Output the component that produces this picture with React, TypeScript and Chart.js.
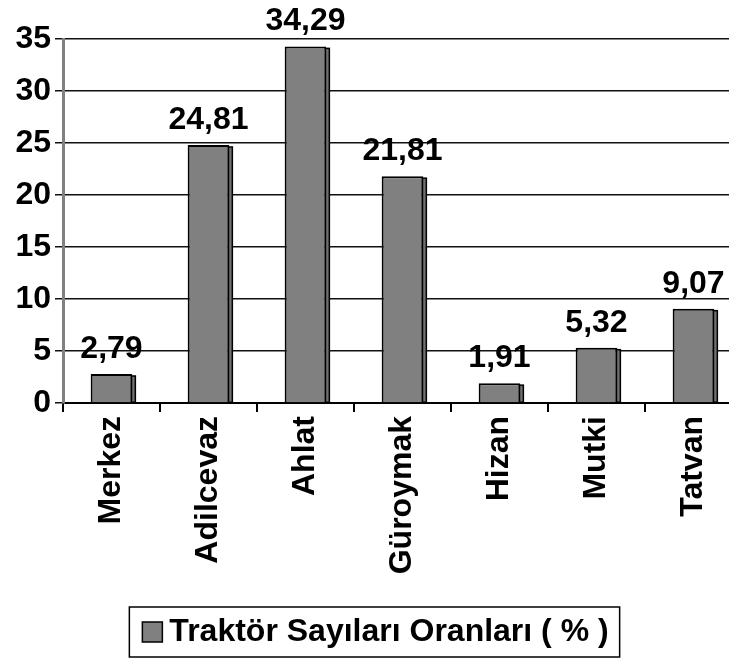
import React, { useEffect, useRef } from "react";
import { Chart, registerables } from "chart.js";

Chart.register(...registerables);

const categories = ["Merkez", "Adilcevaz", "Ahlat", "Güroymak", "Hizan", "Mutki", "Tatvan"];
const values = [2.79, 24.81, 34.29, 21.81, 1.91, 5.32, 9.07];
const valueLabels = ["2,79", "24,81", "34,29", "21,81", "1,91", "5,32", "9,07"];
const yTicks = [0, 5, 10, 15, 20, 25, 30, 35];
const seriesName = "Traktör Sayıları Oranları ( % )";

const FONT = "'Liberation Sans', Arial, sans-serif";
const FS = 32;

const barSidePlugin = {
  id: "barSide",
  beforeDatasetsDraw(chart: any) {
    const ctx = chart.ctx;
    const meta = chart.getDatasetMeta(0);
    ctx.save();
    meta.data.forEach((bar: any) => {
      const right = bar.x + bar.width / 2;
      const top = bar.y;
      const base = bar.base;
      ctx.fillStyle = "#707070";
      ctx.fillRect(right - 1, top + 2, 4, base - top - 2);
      ctx.strokeStyle = "#000";
      ctx.lineWidth = 1.5;
      ctx.strokeRect(right - 1, top + 2, 4, base - top - 2);
    });
    ctx.restore();
  },
};

const valueLabelPlugin = {
  id: "valueLabels",
  afterDatasetsDraw(chart: any) {
    const ctx = chart.ctx;
    const meta = chart.getDatasetMeta(0);
    ctx.save();
    ctx.font = `bold ${FS}px ${FONT}`;
    ctx.fillStyle = "#000";
    ctx.textAlign = "center";
    ctx.textBaseline = "alphabetic";
    meta.data.forEach((bar: any, i: number) => {
      ctx.fillText(valueLabels[i], bar.x, bar.y - 16);
    });
    ctx.restore();
  },
};

const legendBorderPlugin = {
  id: "legendBorder",
  afterDraw(chart: any) {
    const lg = chart.legend;
    if (!lg || !lg.legendHitBoxes || !lg.legendHitBoxes.length) return;
    const hb = lg.legendHitBoxes[0];
    const ctx = chart.ctx;
    ctx.save();
    // legend swatch, placed close to the text
    const sx = hb.left + 9;
    const sy = hb.top + (hb.height - 20) / 2;
    ctx.fillStyle = "#808080";
    ctx.fillRect(sx, sy, 20, 20);
    ctx.strokeStyle = "#000";
    ctx.lineWidth = 1.5;
    ctx.strokeRect(sx, sy, 20, 20);
    // border
    ctx.strokeRect(sx - 13, hb.top - 9, hb.width - 9 + 13 + 11, hb.height + 18);
    ctx.restore();
  },
};

export default function App() {
  const ref = useRef<HTMLCanvasElement | null>(null);
  useEffect(() => {
    document.body.style.margin = "0";
    const canvas = ref.current!;
    const chart = new Chart(canvas, {
      type: "bar",
      data: {
        labels: categories,
        datasets: [
          {
            label: seriesName,
            data: values,
            backgroundColor: "#808080",
            borderColor: "#000",
            borderWidth: 2,
            barPercentage: 0.43,
            categoryPercentage: 1,
          },
        ],
      },
      options: {
        responsive: false,
        animation: false,
        layout: { padding: { top: 39, left: 0, right: 0, bottom: 1 } },
        plugins: {
          tooltip: { enabled: false },
          legend: {
            position: "bottom",
            labels: {
              color: "#000",
              font: { family: FONT, size: FS, weight: "bold" },
              boxWidth: 20,
              boxHeight: 20,
              padding: 10,
              generateLabels: () => [
                {
                  text: seriesName,
                  fillStyle: "rgba(0,0,0,0)",
                  strokeStyle: "rgba(0,0,0,0)",
                  lineWidth: 0,
                  hidden: false,
                  datasetIndex: 0,
                },
              ],
            },
          },
        },
        scales: {
          x: {
            afterFit: (s: any) => {
              s.height = 203;
            },
            grid: {
              offset: true,
              drawOnChartArea: false,
              drawTicks: true,
              tickLength: 9,
              color: "#000",
              lineWidth: 2,
            },
            border: { color: "#000", width: 2 },
            ticks: {
              color: "#000",
              font: { family: FONT, size: FS, weight: "bold" },
              minRotation: 90,
              maxRotation: 90,
              padding: 4,
              autoSkip: false,
            },
          },
          y: {
            min: 0,
            max: 35,
            afterFit: (s: any) => {
              s.width = 63;
            },
            afterBuildTicks: (s: any) => {
              s.ticks = yTicks.map((v) => ({ value: v }));
            },
            grid: {
              color: "#111",
              lineWidth: 1.5,
              drawTicks: true,
              tickLength: 8,
            },
            border: { color: "#808080", width: 3 },
            ticks: {
              color: "#000",
              font: { family: FONT, size: FS, weight: "bold" },
              padding: 4,
            },
          },
        },
      },
      plugins: [barSidePlugin, valueLabelPlugin, legendBorderPlugin],
    } as any);
    return () => chart.destroy();
  }, []);
  return (
    <div style={{ position: "fixed", left: 0, top: 0, width: 729, height: 659, overflow: "hidden", background: "#fff" }}>
      <canvas ref={ref} width={742} height={659} style={{ display: "block" }} />
    </div>
  );
}
